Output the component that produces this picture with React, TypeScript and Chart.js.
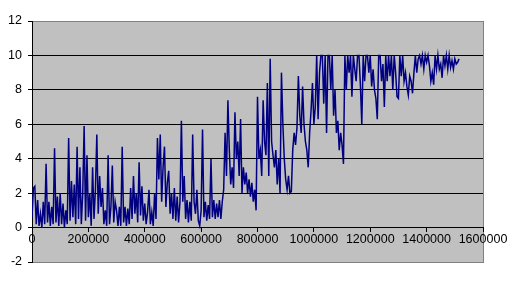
import React, { useEffect, useRef } from "react";
import { Chart, registerables } from "chart.js";

Chart.register(...registerables);

// sampling step along the x axis (one reading every STEP units)
const STEP = 5000;

// series values, in order of x (0, 5000, 10000, ...)
const seriesValues: number[] = [
  0.6, 2.3, 2.4, 0.2, 1.6, 0.1, 0.8, 0.0, 1.5, 0.2,
  3.7, 0.3, 1.5, 0.1, 1.2, 0.2, 4.6, 0.3, 1.8, 0.1,
  2.0, 0.2, 1.4, 0.0, 1.0, 0.2, 5.2, 0.4, 2.7, 0.6,
  2.5, 0.2, 4.7, 0.5, 3.5, 0.2, 2.0, 5.9, 0.4, 4.2,
  0.6, 2.0, 0.1, 3.5, 0.5, 2.2, 5.4, 0.8, 3.0, 1.2,
  2.3, 0.2, 1.0, 0.1, 4.2, 0.2, 1.2, 3.6, 0.3, 1.5,
  1.0, 0.1, 1.2, 0.1, 4.7, 0.3, 1.2, 0.1, 1.1, 0.2,
  2.3, 0.5, 3.0, 0.8, 2.0, 0.3, 3.8, 0.7, 2.4, 0.4,
  1.4, 0.2, 0.9, 2.2, 0.2, 0.9, 0.1, 2.0, 0.5, 5.2,
  2.8, 5.4, 1.5, 3.5, 4.7, 1.2, 2.6, 3.3, 0.8, 2.0,
  0.5, 2.3, 0.4, 1.8, 0.3, 1.5, 6.2, 1.5, 3.0, 0.5,
  1.6, 0.3, 1.5, 0.4, 5.4, 1.5, 0.8, 2.2, 0.4, 0.1,
  1.0, 5.7, 0.6, 1.5, 0.4, 1.3, 0.5, 4.0, 0.6, 1.6,
  0.5, 1.4, 0.6, 1.6, 0.5, 1.5, 2.2, 5.5, 3.0, 7.4,
  4.5, 2.5, 3.5, 2.3, 6.7, 4.0, 5.0, 3.0, 6.3, 2.0,
  3.5, 2.5, 3.2, 2.0, 2.8, 1.8, 2.6, 1.5, 2.2, 1.0,
  7.6, 4.0, 4.5, 3.0, 7.4, 5.0, 4.2, 8.4, 3.0, 9.8,
  5.0, 4.2, 3.5, 4.5, 2.5, 4.0, 2.0, 9.0, 6.0, 4.0,
  2.8, 2.2, 3.0, 2.0, 2.1, 4.5, 5.5, 4.8, 5.8, 8.8,
  6.5, 5.5, 8.2, 6.0, 5.0, 4.5, 3.5, 5.5, 6.8, 8.4,
  6.0, 7.0, 10, 6.3, 9.0, 10, 10, 7.2, 10, 5.5,
  10, 10, 8.0, 10, 6.5, 8.0, 5.5, 6.2, 4.5, 5.5,
  4.8, 3.7, 10, 8.0, 10, 9.0, 10, 7.6, 10, 9.2,
  8.5, 10, 10, 8.3, 6.0, 10, 8.5, 10, 10, 9.0,
  10, 8.2, 9.2, 8.0, 7.5, 6.3, 10, 10, 8.5, 9.5,
  7.0, 10, 8.5, 10, 8.8, 10, 8.0, 10, 9.0, 7.6,
  7.5, 10, 8.8, 10, 8.5, 9.0, 8.2, 7.7, 8.8, 8.5,
  7.8, 9.0, 10, 9.0, 9.8, 10, 9.5, 10, 9.2, 10,
  9.6, 10, 9.4, 8.5, 9.0, 8.3, 10, 9.2, 10, 9.2,
  9.5, 8.7, 10, 9.4, 10, 9.2, 10, 9.3, 9.7, 9.2,
  9.8, 9.5, 9.6, 9.8,
];

const xMin = 0;
const xMax = 1600000;
const xStep = 200000;
const yMin = -2;
const yMax = 12;
const yStep = 2;

const FONT = "'Liberation Sans', Arial, sans-serif";

const plotBackground = {
  id: "plotBackground",
  beforeDraw(chart: any) {
    const { ctx, chartArea } = chart;
    ctx.save();
    ctx.fillStyle = "#C0C0C0";
    ctx.fillRect(chartArea.left, chartArea.top, chartArea.right - chartArea.left, chartArea.bottom - chartArea.top);
    ctx.strokeStyle = "#808080";
    ctx.lineWidth = 1;
    ctx.strokeRect(
      Math.round(chartArea.left) + 0.5,
      Math.round(chartArea.top) + 0.5,
      Math.round(chartArea.right - chartArea.left),
      Math.round(chartArea.bottom - chartArea.top)
    );
    ctx.restore();
  },
};

export default function App() {
  const canvasRef = useRef<HTMLCanvasElement | null>(null);

  useEffect(() => {
    document.body.style.margin = "0";
    const canvas = canvasRef.current;
    if (!canvas) return;
    const points = seriesValues.map((v, i) => ({ x: i * STEP, y: v }));
    const chart = new Chart(canvas, {
      type: "line",
      data: {
        datasets: [
          {
            data: points,
            borderColor: "#000080",
            borderWidth: 1.5,
            pointRadius: 0,
            fill: false,
            tension: 0,
          },
        ],
      },
      options: {
        animation: false,
        responsive: false,
        events: [],
        layout: { padding: { left: 0, top: 21, right: 32, bottom: 21 } },
        plugins: {
          legend: { display: false },
          tooltip: { enabled: false },
          title: { display: false },
        },
        scales: {
          x: {
            type: "linear",
            position: { y: 0 } as any,
            min: xMin,
            max: xMax,
            grid: {
              drawOnChartArea: false,
              drawTicks: true,
              tickLength: 4,
              tickColor: "#000000",
            },
            border: { display: true, color: "#000000", width: 1 },
            ticks: {
              stepSize: xStep,
              autoSkip: false,
              maxRotation: 0,
              padding: 0,
              color: "#000000",
              font: { family: FONT, size: 12.5 },
              callback: (v: any) => String(v),
            },
          },
          y: {
            type: "linear",
            position: "left",
            min: yMin,
            max: yMax,
            afterFit: (scale: any) => {
              scale.width = 32;
            },
            grid: {
              color: (ctx: any) => {
                const v = ctx.tick ? ctx.tick.value : null;
                return v === yMin || v === yMax || v === 0 ? "rgba(0,0,0,0)" : "#000000";
              },
              tickColor: "#000000",
              tickLength: 4,
              lineWidth: 1,
            },
            border: { display: true, color: "#000000", width: 1 },
            ticks: {
              stepSize: yStep,
              padding: 6,
              color: "#000000",
              font: { family: FONT, size: 12.5 },
            },
          },
        },
      },
      plugins: [plotBackground],
    });
    return () => chart.destroy();
  }, []);

  return (
    <div style={{ width: 515, height: 283, background: "#ffffff" }}>
      <canvas ref={canvasRef} width={515} height={283} />
    </div>
  );
}
